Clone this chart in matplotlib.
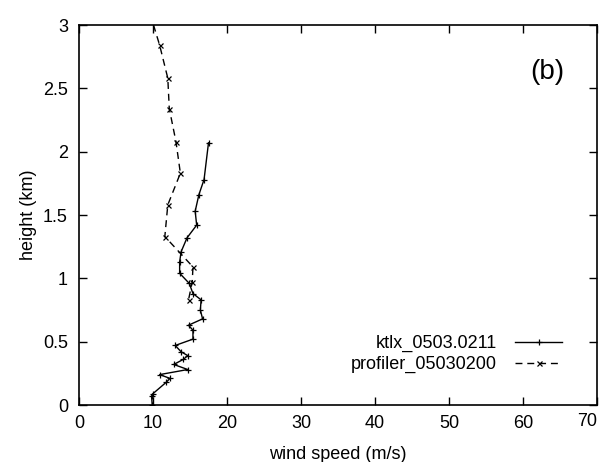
import matplotlib
matplotlib.use("Agg")
import matplotlib.pyplot as plt

plt.rcParams['font.family'] = ['Liberation Sans', 'DejaVu Sans']

# ktlx_0503.0211 (solid, + markers)
ktlx_speed = [17.5, 16.9, 16.2, 15.7, 15.9, 14.6, 13.8, 13.6, 13.6, 14.9, 15.4, 16.5,
              16.4, 16.7, 14.8, 15.4, 15.4, 13.0, 13.8, 14.7, 14.1, 12.8, 14.7, 10.9,
              12.3, 11.8, 10.0, 9.8, 9.9]
ktlx_height = [2.07, 1.78, 1.66, 1.53, 1.42, 1.32, 1.21, 1.13, 1.04, 0.96, 0.88, 0.83,
               0.75, 0.68, 0.63, 0.59, 0.52, 0.47, 0.42, 0.39, 0.36, 0.32, 0.28, 0.24,
               0.21, 0.18, 0.09, 0.07, 0.00]

# profiler_05030200 (dashed, x markers)
prof_speed = [9.6, 10.9, 12.0, 12.2, 13.1, 13.7, 12.0, 11.6, 15.4, 15.3, 14.8]
prof_height = [3.09, 2.84, 2.58, 2.34, 2.08, 1.83, 1.58, 1.33, 1.09, 0.97, 0.83]

xticks = [0, 10, 20, 30, 40, 50, 60, 70]
yticks = [0, 0.5, 1, 1.5, 2, 2.5, 3]
ytick_labels = ['0', '0.5', '1', '1.5', '2', '2.5', '3']

fig = plt.figure(figsize=(6.03, 4.62), dpi=100)
ax = fig.add_axes([79/603, 1 - 405/462, (597 - 79)/603, (405 - 25)/462])

ax.plot(ktlx_speed, ktlx_height, color='black', lw=1.0, marker='+', ms=4.5, mew=0.9,
        label='ktlx_0503.0211')
ax.plot(prof_speed, prof_height, color='black', lw=1.0, ls=(0, (5, 3.5)), marker='x',
        ms=3.6, mew=0.9, label='profiler_05030200')

ax.set_xlim(0, 70)
ax.set_ylim(0, 3)
ax.set_xticks(xticks)
ax.set_xticklabels([str(t) for t in xticks])
ax.set_yticks(yticks)
ax.set_yticklabels(ytick_labels)
ax.tick_params(direction='in', length=6, width=1, top=True, right=True,
               labelsize=13, pad=7)
ax.tick_params(axis='y', pad=8)
labs = ax.get_xticklabels()
labs[-1].set_horizontalalignment('right')
labs[-1].set_y(0.005)
for s in ax.spines.values():
    s.set_linewidth(1.2)

ax.set_xlabel('wind speed (m/s)', fontsize=13, labelpad=10)
ax.set_ylabel('height (km)', fontsize=13, labelpad=4)

ax.text(0.905, 0.876, '(b)', transform=ax.transAxes, fontsize=20,
        ha='center', va='center')

leg = ax.legend(loc='lower right', bbox_to_anchor=(0.95, 0.06), markerfirst=False,
                frameon=False, fontsize=13, handlelength=2.6, handletextpad=1.0,
                labelspacing=0.2, borderpad=0.0)
for col in leg._legend_handle_box.get_children():
    col.align = 'right'

fig.savefig('out.png', dpi=100)
